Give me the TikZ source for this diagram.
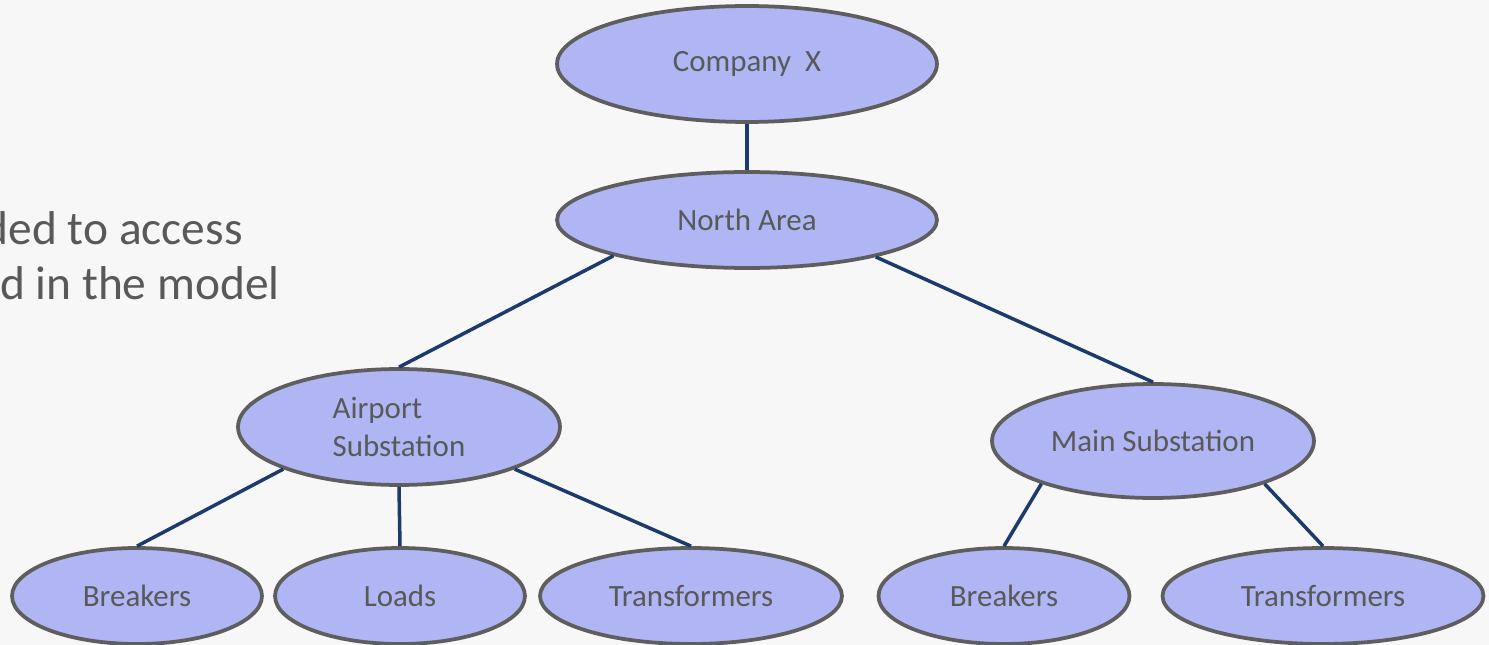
\documentclass[tikz,border=0pt]{standalone}
\usepackage{fontspec}
\setmainfont{Carlito}
\usetikzlibrary{shapes.geometric}
\definecolor{bubblefill}{HTML}{AFB6F3}
\definecolor{bubbleedge}{HTML}{5E5E5E}
\definecolor{linkblue}{HTML}{1C3A6B}
\definecolor{textgray}{HTML}{595959}
\newcommand*{\bubblefont}{\fontsize{17.6}{22}\selectfont\color{textgray}}

\begin{document}
\begin{tikzpicture}[x=0.02cm, y=-0.02cm,
    bubble/.style 2 args={ellipse, draw=bubbleedge, line width=0.075cm, fill=bubblefill,
      inner sep=0pt, minimum width=#1, minimum height=#2, font=\bubblefont},
    link/.style={draw=linkblue, line width=0.07cm}]
  \fill[black!3] (0,0) rectangle (1489,645);
  \useasboundingbox (0,0) rectangle (1489,645);
  % slide text behind the tree
  \node[anchor=base east, inner sep=0pt, font=\fontsize{27}{32}\selectfont\color{textgray}] (line1) at (243,245) {ded to access};
  \node[anchor=base east, inner sep=0pt, font=\fontsize{27}{32}\selectfont\color{textgray}] (line2) at (280,300) {d in the model};
  % tree
  \node[bubble={7.6cm}{2.32cm}] (company) at (747,64) {Company\ \ X};
  \node[bubble={7.6cm}{1.92cm}] (north) at (747,220) {North Area};
  \node[bubble={6.44cm}{2.32cm}, align=left] (airport) at (399,427) {Airport\\Substation};
  \node[bubble={6.44cm}{2.28cm}] (main) at (1153,441) {Main Substation};
  \foreach \name/\x/\w/\text in {brA/137/5.0/Breakers, loA/400/5.0/Loads, trA/691/6.04/Transformers,
                                 brM/1004/5.02/Breakers, trM/1323/6.42/Transformers} {
    \node[bubble={\w cm}{1.92cm}] (\name) at (\x,596) {\text};
  }
  \draw[link] (company.south) -- (north.north);
  \draw[link] (north.195) -- (airport.north);
  \draw[link] (north.-16) -- (main.north);
  \draw[link] (airport.200) -- (brA.north);
  \draw[link] (airport.south) -- (loA.north);
  \draw[link] (airport.-20) -- (trA.north);
  \draw[link] (main.201) -- (brM.north);
  \draw[link] (main.-21) -- (trM.north);
\end{tikzpicture}
\end{document}
